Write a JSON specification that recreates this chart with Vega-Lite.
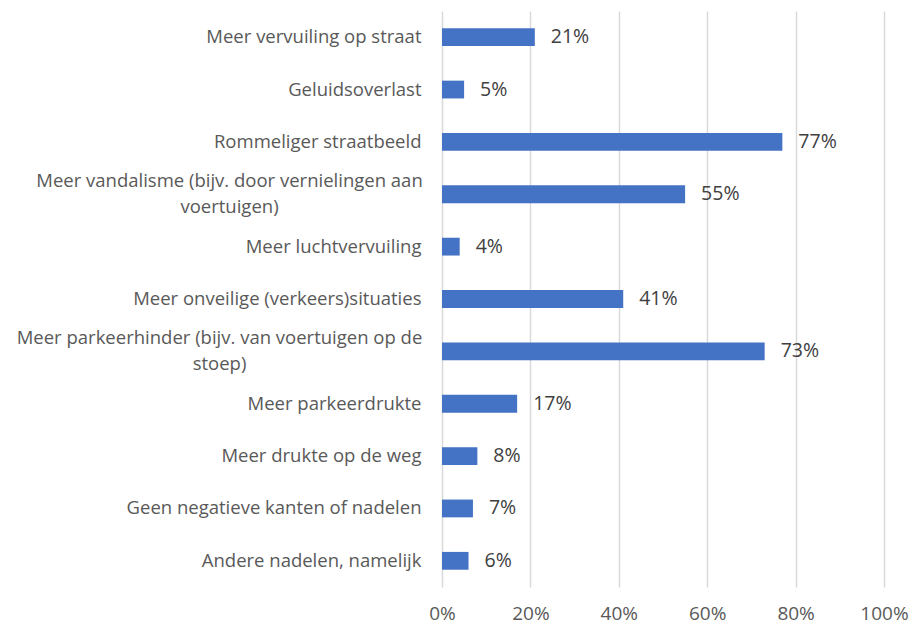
{
  "$schema": "https://vega.github.io/schema/vega-lite/v6.json",
  "autosize": {"type": "none"},
  "width": 442,
  "height": 576,
  "padding": {"left": 442, "top": 11, "right": 29, "bottom": 41},
  "background": "white",
  "config": {"view": {"stroke": null}, "font": "Open Sans"},
  "data": {"values": [
    {"category": "Meer vervuiling op straat", "value": 0.21},
    {"category": "Geluidsoverlast", "value": 0.05},
    {"category": "Rommeliger straatbeeld", "value": 0.77},
    {"category": "Meer vandalisme (bijv. door vernielingen aan|voertuigen)", "value": 0.55},
    {"category": "Meer luchtvervuiling", "value": 0.04},
    {"category": "Meer onveilige (verkeers)situaties", "value": 0.41},
    {"category": "Meer parkeerhinder (bijv. van voertuigen op de|stoep)", "value": 0.73},
    {"category": "Meer parkeerdrukte", "value": 0.17},
    {"category": "Meer drukte op de weg", "value": 0.08},
    {"category": "Geen negatieve kanten of nadelen", "value": 0.07},
    {"category": "Andere nadelen, namelijk", "value": 0.06}
  ]},
  "encoding": {
    "y": {
      "field": "category", "type": "nominal", "sort": null,
      "scale": {"paddingInner": 0.66, "paddingOuter": 0.33},
      "axis": {
        "title": null, "domain": false, "ticks": false, "grid": false,
        "labelExpr": "split(datum.label, '|')",
        "labelOffset": {"expr": "indexof(datum.value, '|') >= 0 ? -13 : 0"},
        "labelAlign": {"expr": "indexof(datum.value, '|') >= 0 ? 'center' : 'right'"},
        "labelPadding": {"expr": "indexof(datum.value, 'vandalisme') >= 0 ? 213 : indexof(datum.value, 'parkeerhinder') >= 0 ? 223 : 21"},
        "labelFontSize": 18.5, "labelColor": "#595959",
        "labelLineHeight": 26, "labelLimit": 500
      }
    },
    "x": {
      "field": "value", "type": "quantitative",
      "scale": {"domain": [0, 1]},
      "axis": {
        "title": null, "format": ".0%", "values": [0, 0.2, 0.4, 0.6, 0.8, 1],
        "domain": false, "ticks": false, "grid": true, "labelFlush": false,
        "gridColor": "#d9d9d9", "gridWidth": 1.5,
        "labelFontSize": 19, "labelColor": "#595959", "labelPadding": 17
      }
    }
  },
  "layer": [
    {"mark": {"type": "bar", "color": "#4472C4", "x2": 1}},
    {"mark": {"type": "text", "align": "left", "dx": 16, "fontSize": 19.5, "color": "#404040"},
     "encoding": {"text": {"field": "value", "format": ".0%"}}}
  ]
}
